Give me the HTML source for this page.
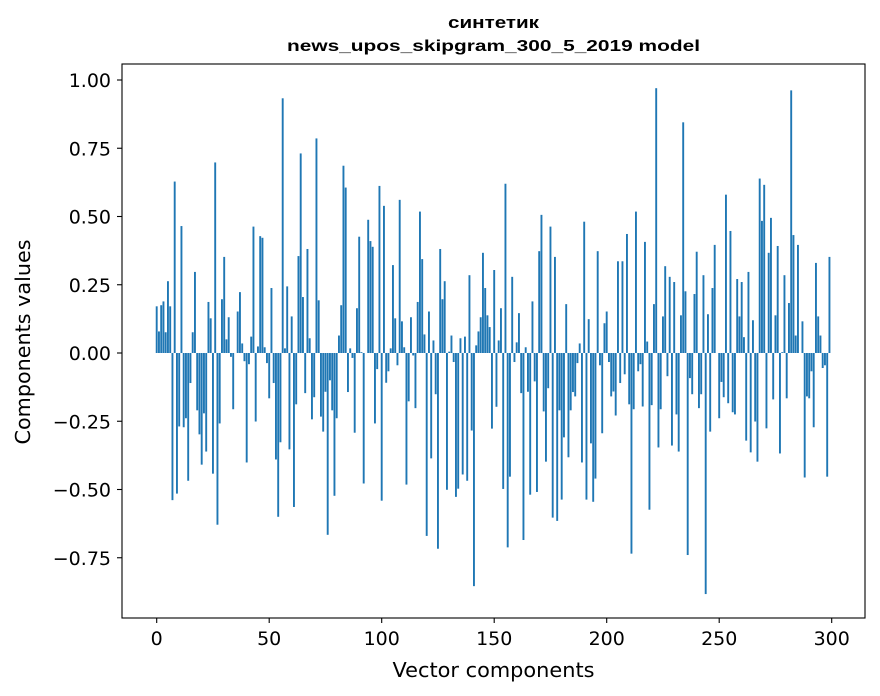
<!DOCTYPE html>
<html><head><meta charset="utf-8"><style>
html,body{margin:0;padding:0;background:#fff;}
svg{display:block;font-family:"DejaVu Sans","Liberation Sans",sans-serif;}
</style></head><body>
<svg id="chart" width="880" height="696" viewBox="0 0 880 696" xmlns="http://www.w3.org/2000/svg">
<rect width="880" height="696" fill="#fff"/>
<text x="493.5" y="28" text-anchor="middle" font-family="Liberation Sans, sans-serif" font-weight="bold" font-size="17" textLength="91" lengthAdjust="spacingAndGlyphs">синтетик</text>
<text x="493.5" y="51" text-anchor="middle" font-family="Liberation Sans, sans-serif" font-weight="bold" font-size="16" textLength="413" lengthAdjust="spacingAndGlyphs">news_upos_skipgram_300_5_2019 model</text>
<g id="bars"></g>
<g id="yticks"></g>
<g id="xticks"></g>
<rect x="122" y="64" width="743" height="554" fill="none" stroke="#000" stroke-width="1.1"/>
<text x="493.5" y="677" text-anchor="middle" font-size="20.5" textLength="202" lengthAdjust="spacingAndGlyphs">Vector components</text>
<text transform="translate(30,342) rotate(-90)" text-anchor="middle" font-size="20.5" textLength="205" lengthAdjust="spacingAndGlyphs">Components values</text>
</svg>
<script>
const values = [
0.171,0.079,0.175,0.189,0.076,0.263,0.171,-0.539,0.628,-0.515,
-0.269,0.465,-0.272,-0.239,-0.468,-0.110,0.076,0.297,-0.210,-0.298,
-0.409,-0.221,-0.361,0.187,0.127,-0.442,0.698,-0.629,-0.258,0.197,
0.352,0.050,0.131,-0.014,-0.206,0.0,0.152,0.223,0.035,-0.030,
-0.401,-0.041,0.060,0.463,-0.251,0.024,0.428,0.422,0.021,-0.037,
-0.166,0.238,-0.110,-0.390,-0.600,-0.327,0.933,0.017,0.244,-0.353,
0.134,-0.564,-0.188,0.355,0.731,0.205,-0.147,0.381,0.054,-0.243,
-0.162,0.786,0.193,-0.233,-0.288,-0.142,-0.666,-0.100,-0.210,-0.523,
-0.239,0.064,0.175,0.686,0.606,-0.143,0.017,-0.018,-0.292,0.164,
0.426,0.003,-0.478,0.0,0.488,0.410,0.389,-0.258,-0.059,0.612,
-0.541,0.539,-0.109,-0.067,0.017,0.322,0.127,-0.045,0.561,0.116,
0.021,-0.482,-0.177,0.131,-0.009,-0.202,0.187,0.518,0.344,0.068,
-0.670,0.152,-0.386,0.046,-0.151,-0.717,0.381,0.197,0.263,-0.501,
0.005,0.064,-0.033,-0.527,-0.497,0.054,-0.445,0.060,-0.468,0.285,
-0.284,-0.854,0.028,0.079,0.131,0.367,0.238,0.138,0.095,-0.277,
0.304,-0.197,0.046,0.164,-0.498,0.620,-0.712,-0.453,0.279,-0.033,
0.039,0.146,-0.147,-0.685,0.021,-0.142,-0.519,0.189,-0.104,-0.509,
0.373,0.506,-0.214,-0.398,-0.129,0.463,-0.603,0.352,-0.615,-0.210,
-0.537,-0.309,0.179,-0.382,-0.210,-0.143,-0.159,-0.037,0.035,-0.401,
0.481,-0.537,0.124,-0.331,-0.545,-0.460,0.373,-0.045,-0.294,0.109,
0.152,-0.033,-0.159,-0.141,-0.229,0.336,-0.110,0.336,-0.078,0.436,
-0.188,-0.735,-0.206,0.518,-0.067,-0.041,-0.196,0.407,0.042,-0.574,
-0.191,0.179,0.970,-0.346,-0.206,0.134,0.318,-0.085,0.279,-0.339,
0.260,-0.225,-0.361,0.138,0.845,0.226,-0.740,-0.092,-0.151,0.216,
0.371,-0.202,-0.151,0.285,-0.883,0.142,-0.288,0.238,0.396,0.0,
-0.239,-0.106,-0.162,0.580,-0.184,0.447,-0.217,-0.225,0.271,0.134,
0.260,0.058,-0.321,0.297,-0.364,0.120,-0.251,-0.398,0.639,0.484,
0.616,-0.276,0.367,0.495,-0.170,0.138,0.392,-0.368,0.003,0.285,
-0.166,0.183,0.962,0.432,0.064,0.396,0.0,0.116,-0.456,-0.159,
-0.166,-0.067,-0.272,0.330,0.134,0.064,-0.055,-0.045,-0.453,0.352
];
const yTickValues = [1.0,0.75,0.5,0.25,0.0,-0.25,-0.5,-0.75];
const yTickLabels = ["1.00","0.75","0.50","0.25","0.00","\u22120.25","\u22120.50","\u22120.75"];
const xTickValues = [0,50,100,150,200,250,300];
const xTickLabels = ["0","50","100","150","200","250","300"];

const NS = "http://www.w3.org/2000/svg";
const xScale = v => 156.7 + (v) * 2.25;
const yScale = v => 353 - v * 273;
const barW = 1.9;

const gb = document.getElementById('bars');
values.forEach((v, i) => {
  const r = document.createElementNS(NS, 'rect');
  const y0 = yScale(0), y1 = yScale(v);
  r.setAttribute('x', xScale(i) - barW / 2);
  r.setAttribute('y', Math.min(y0, y1));
  r.setAttribute('width', barW);
  r.setAttribute('height', Math.abs(y1 - y0));
  r.setAttribute('fill', '#1f77b4');
  
  
  gb.appendChild(r);
});

const gy = document.getElementById('yticks');
yTickValues.forEach((v, i) => {
  const y = yScale(v);
  const l = document.createElementNS(NS, 'line');
  l.setAttribute('x1', 117); l.setAttribute('x2', 122);
  l.setAttribute('y1', y); l.setAttribute('y2', y);
  l.setAttribute('stroke', '#000'); l.setAttribute('stroke-width', '1.1');
  
  
  gy.appendChild(l);
  const t = document.createElementNS(NS, 'text');
  t.setAttribute('x', 111); t.setAttribute('y', y + 7);
  t.setAttribute('text-anchor', 'end'); t.setAttribute('font-size', '19');
  t.textContent = yTickLabels[i];
  
  
  gy.appendChild(t);
});

const gx = document.getElementById('xticks');
xTickValues.forEach((v, i) => {
  const x = xScale(v);
  const l = document.createElementNS(NS, 'line');
  l.setAttribute('x1', x); l.setAttribute('x2', x);
  l.setAttribute('y1', 618); l.setAttribute('y2', 623);
  l.setAttribute('stroke', '#000'); l.setAttribute('stroke-width', '1.1');
  
  
  gx.appendChild(l);
  const t = document.createElementNS(NS, 'text');
  t.setAttribute('x', x); t.setAttribute('y', 645);
  t.setAttribute('text-anchor', 'middle'); t.setAttribute('font-size', '19');
  t.textContent = xTickLabels[i];
  
  
  gx.appendChild(t);
});
</script>
</body></html>
